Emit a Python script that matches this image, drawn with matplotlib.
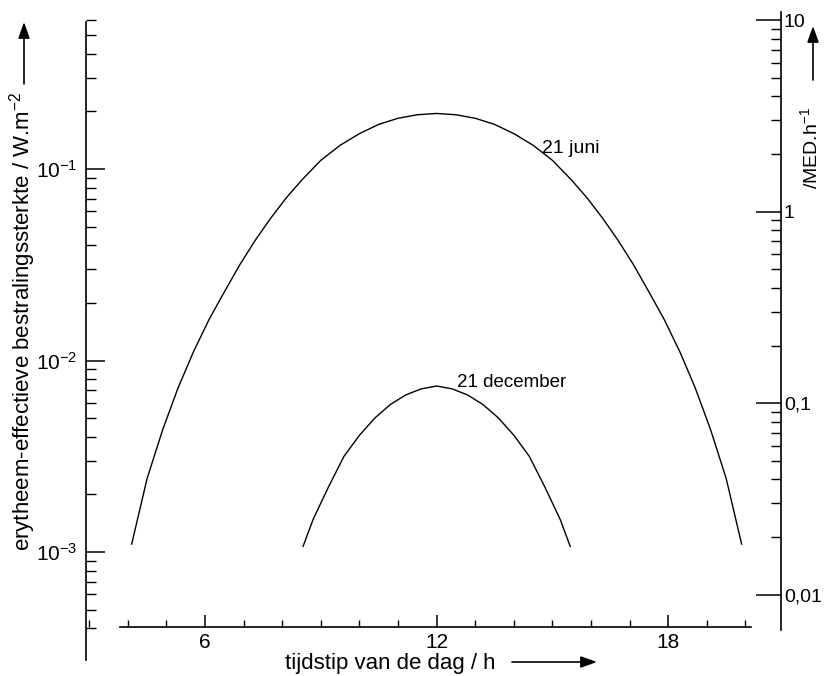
import math
import matplotlib
matplotlib.use("Agg")
import matplotlib.pyplot as plt
from matplotlib.ticker import FixedLocator, FuncFormatter, NullFormatter, MultipleLocator

# waarden (uur van de dag, W/m2)
juni_uur = [4.1, 4.5, 4.9, 5.3, 5.7, 6.1, 6.5, 6.9, 7.3, 7.7, 8.1, 8.5, 9.0, 9.5, 10.0, 10.5,
            11.0, 11.5, 12.0, 12.5, 13.0, 13.5, 14.0, 14.5, 15.0, 15.5, 15.9, 16.3, 16.7,
            17.1, 17.5, 17.9, 18.3, 18.7, 19.1, 19.5, 19.9]
juni_waarde = [0.0011, 0.00242, 0.00433, 0.00718, 0.0111, 0.0163, 0.0228, 0.0316, 0.0424,
               0.0553, 0.0705, 0.0873, 0.111, 0.133, 0.153, 0.171, 0.184, 0.192, 0.195,
               0.192, 0.184, 0.171, 0.153, 0.133, 0.111, 0.0873, 0.0705, 0.0553, 0.0424,
               0.0316, 0.0228, 0.0163, 0.0111, 0.00718, 0.00433, 0.00242, 0.0011]

dec_uur = [8.54, 8.8, 9.2, 9.6, 10.0, 10.4, 10.8, 11.2, 11.6, 12.0, 12.4, 12.8, 13.2,
           13.6, 14.0, 14.4, 14.8, 15.2, 15.46]
dec_waarde = [0.00107, 0.00148, 0.00219, 0.00316, 0.00407, 0.00501, 0.00589, 0.00661,
              0.00711, 0.00736, 0.00711, 0.00661, 0.00589, 0.00501, 0.00407, 0.00316,
              0.00219, 0.00148, 0.00107]

links_ticks = [1e-3, 1e-2, 1e-1]
rechts_ticks = [0.01, 0.1, 1, 10]
rechts_labels = ["0,01", "0,1", "1", "10"]
x_ticks = [6, 12, 18]
MED_factor = 16.7  # W/m2 -> MED/h

plt.rcParams["font.family"] = ["Liberation Sans", "DejaVu Sans"]

W, H = 824, 676


def links_val(ypix):
    # pixelhoogte -> waarde op linker as
    return 10 ** (-1 - (ypix - 169) / 191.5)


fig = plt.figure(figsize=(W / 100, H / 100), dpi=100)
ax = fig.add_axes([86 / W, 1 - 660 / H, (781 - 86) / W, (660 - 12) / H])
ax.set_yscale("log")
ax.set_xlim(2.917, 20.92)
ax.set_ylim(links_val(660), links_val(12))

ax.plot(juni_uur, juni_waarde, color="black", lw=1.0)
ax.plot(dec_uur, dec_waarde, color="black", lw=1.0)

ax.text(14.73, links_val(153), "21 juni", fontsize=14, ha="left", va="baseline")
ax.text(12.53, links_val(387), "21 december", fontsize=13.5, ha="left", va="baseline")

# assen
ax.spines["top"].set_visible(False)
ax.spines["right"].set_visible(False)
ax.spines["left"].set_bounds(links_val(660), links_val(22))
ax.spines["bottom"].set_position(("data", links_val(627)))
ax.spines["bottom"].set_bounds(3.8, 20.15)
for s in ["left", "bottom"]:
    ax.spines[s].set_linewidth(1.2)

ax.yaxis.tick_left()
ax.yaxis.set_major_locator(FixedLocator(links_ticks))
ax.yaxis.set_major_formatter(FuncFormatter(
    lambda v, p: r"$\mathregular{10^{%d}}$" % round(math.log10(v))))
ax.yaxis.set_minor_locator(FixedLocator(
    [m * 10.0 ** e for e in range(-4, 0) for m in range(2, 10) if m * 10.0 ** e >= 4e-4]))
ax.yaxis.set_minor_formatter(NullFormatter())
ax.tick_params(axis="y", which="major", direction="in", length=14, width=1.1,
               labelsize=15, pad=6)
ax.tick_params(axis="y", which="minor", direction="in", length=7, width=1.0)

ax.xaxis.set_major_locator(FixedLocator(x_ticks))
ax.xaxis.set_minor_locator(MultipleLocator(1))
ax.tick_params(axis="x", which="major", direction="in", length=9, width=1.1,
               labelsize=15, pad=4)
ax.tick_params(axis="x", which="minor", direction="in", length=5, width=1.0)

ax2 = ax.twinx()
ax2.set_yscale("log")
ax2.set_ylim(links_val(660) * MED_factor, links_val(12) * MED_factor)
for s in ["left", "top", "bottom"]:
    ax2.spines[s].set_visible(False)
ax2.spines["right"].set_bounds(links_val(630) * MED_factor, links_val(12) * MED_factor)
ax2.spines["right"].set_linewidth(1.2)
ax2.yaxis.set_major_locator(FixedLocator(rechts_ticks))
ax2.yaxis.set_major_formatter(FuncFormatter(
    lambda v, p: rechts_labels[min(range(len(rechts_ticks)),
                                   key=lambda i: abs(math.log10(rechts_ticks[i] / v)))]))
ax2.yaxis.set_minor_locator(FixedLocator(
    [m * 10.0 ** e for e in range(-2, 1) for m in range(2, 10)]))
ax2.yaxis.set_minor_formatter(NullFormatter())
ax2.tick_params(axis="y", which="major", direction="in", length=18, width=1.1,
                labelsize=14, pad=2)
ax2.tick_params(axis="y", which="minor", direction="in", length=7, width=1.0)

# aslabels met pijlen
fig.text(23 / W, 1 - 321 / H, r"erytheem-effectieve bestralingssterkte / W.m$\mathregular{^{-2}}$",
         rotation=90, ha="center", va="center", fontsize=16)
fig.text(810 / W, 1 - 148 / H, r"/MED.h$\mathregular{^{-1}}$",
         rotation=90, ha="center", va="center", fontsize=14)
fig.text(390 / W, 1 - 663 / H, "tijdstip van de dag / h",
         ha="center", va="center", fontsize=16)

pijl = dict(arrowstyle="-|>,head_length=0.7,head_width=0.25", color="black", lw=1.2,
            mutation_scale=14, shrinkA=0, shrinkB=0)
ax.annotate("", xy=(24 / W, 1 - 22 / H), xytext=(24 / W, 1 - 84 / H),
            xycoords="figure fraction", textcoords="figure fraction", arrowprops=pijl)
ax.annotate("", xy=(813 / W, 1 - 26 / H), xytext=(813 / W, 1 - 80 / H),
            xycoords="figure fraction", textcoords="figure fraction", arrowprops=pijl)
ax.annotate("", xy=(597 / W, 1 - 662 / H), xytext=(512 / W, 1 - 662 / H),
            xycoords="figure fraction", textcoords="figure fraction", arrowprops=pijl)

fig.savefig("out.png", dpi=100)
